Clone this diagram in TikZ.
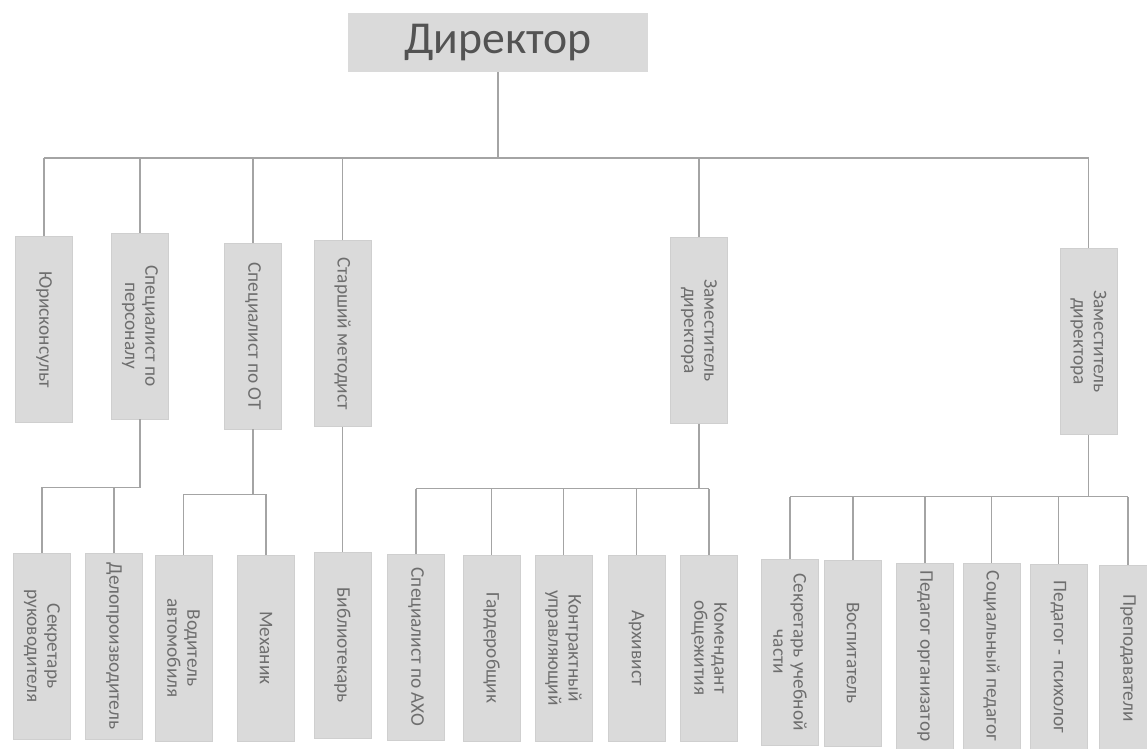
\documentclass[tikz,border=0pt]{standalone}
\usepackage{fontspec}
\setmainfont{Carlito}
\usetikzlibrary{positioning}

\definecolor{boxgray}{HTML}{DADADA}
\definecolor{txtgray}{HTML}{6E6E6E}
\definecolor{linegray}{HTML}{A4A4A4}

\begin{document}
\begin{tikzpicture}[x=0.02cm,y=-0.02cm,
    post/.style={rotate=-90,fill=boxgray,draw=boxgray!95!black,text=txtgray,
        font=\fontsize{11}{11.5}\selectfont,align=center,inner sep=1pt,
        minimum width=3.72cm,minimum height=1.14cm},
    chief/.style={fill=boxgray,text=txtgray!75!black,inner sep=0pt,
        font=\fontsize{26}{28}\selectfont,minimum width=6cm,minimum height=1.18cm},
    link/.style={draw=linegray,line width=0.6pt}]
\fill[white] (0,0) rectangle (1147,749);
\useasboundingbox (0,0) rectangle (1147,749);

\node[chief] (dir) at (498,42.5) {Директор};

% first level
\node[post] (jur)  at (44,329.5)   {Юрисконсульт};
\node[post] (per)  at (140,326)    {Специалист по\\персоналу};
\node[post] (ot)   at (253,336)    {Специалист по ОТ};
\node[post] (met)  at (342.5,333.5) {Старший методист};
\node[post] (zam1) at (699,330.5)  {Заместитель\\директора};
\node[post] (zam2) at (1088.5,341.5) {Заместитель\\директора};

% second level
\node[post] (sec)   at (42,646)     {Секретарь\\руководителя};
\node[post] (delo)  at (114,646)    {Делопроизводитель};
\node[post] (vod)   at (183.5,648)  {Водитель\\автомобиля};
\node[post] (mech)  at (266,648)    {Механик};
\node[post] (bib)   at (342.5,645)  {Библиотекарь};
\node[post] (axo)   at (416,647)    {Специалист по АХО};
\node[post] (gard)  at (491.5,648)  {Гардеробщик};
\node[post] (kontr) at (563.5,648)  {Контрактный\\управляющий};
\node[post] (arch)  at (636.5,648)  {Архивист};
\node[post] (kom)   at (709,648)    {Комендант\\общежития};
\node[post] (secu)  at (790,652)    {Секретарь учебной\\части};
\node[post] (vosp)  at (853,653)    {Воспитатель};
\node[post] (porg)  at (925,656)    {Педагог организатор};
\node[post] (soc)   at (991.5,656)  {Социальный педагог};
\node[post] (psy)   at (1058.5,657) {Педагог - психолог};
\node[post] (prep)  at (1128,658)   {Преподаватели};

% connectors
\coordinate (bus) at (498,158);
\draw[link] (dir.south) -- (bus);
\draw[link] (jur.west |- bus) -- (zam2.west |- bus);
\foreach \n in {jur,per,ot,met,zam1,zam2}
    \draw[link] (\n.west) -- (\n.west |- bus);

\draw[link] (per.east) -- ++(0,68) coordinate (b1) -- (sec.west |- b1);
\foreach \n in {sec,delo}
    \draw[link] (\n.west) -- (\n.west |- b1);

\draw[link] (ot.east) -- ++(0,65) coordinate (b2);
\draw[link] (vod.west |- b2) -- (mech.west |- b2);
\foreach \n in {vod,mech}
    \draw[link] (\n.west) -- (\n.west |- b2);

\draw[link] (met.east) -- (bib.west);

\draw[link] (zam1.east) -- ++(0,65) coordinate (b3);
\draw[link] (axo.west |- b3) -- (kom.west |- b3);
\foreach \n in {axo,gard,kontr,arch,kom}
    \draw[link] (\n.west) -- (\n.west |- b3);

\draw[link] (zam2.east) -- ++(0,62) coordinate (b4);
\draw[link] (secu.west |- b4) -- (prep.west |- b4);
\foreach \n in {secu,vosp,porg,soc,psy,prep}
    \draw[link] (\n.west) -- (\n.west |- b4);
\end{tikzpicture}
\end{document}
